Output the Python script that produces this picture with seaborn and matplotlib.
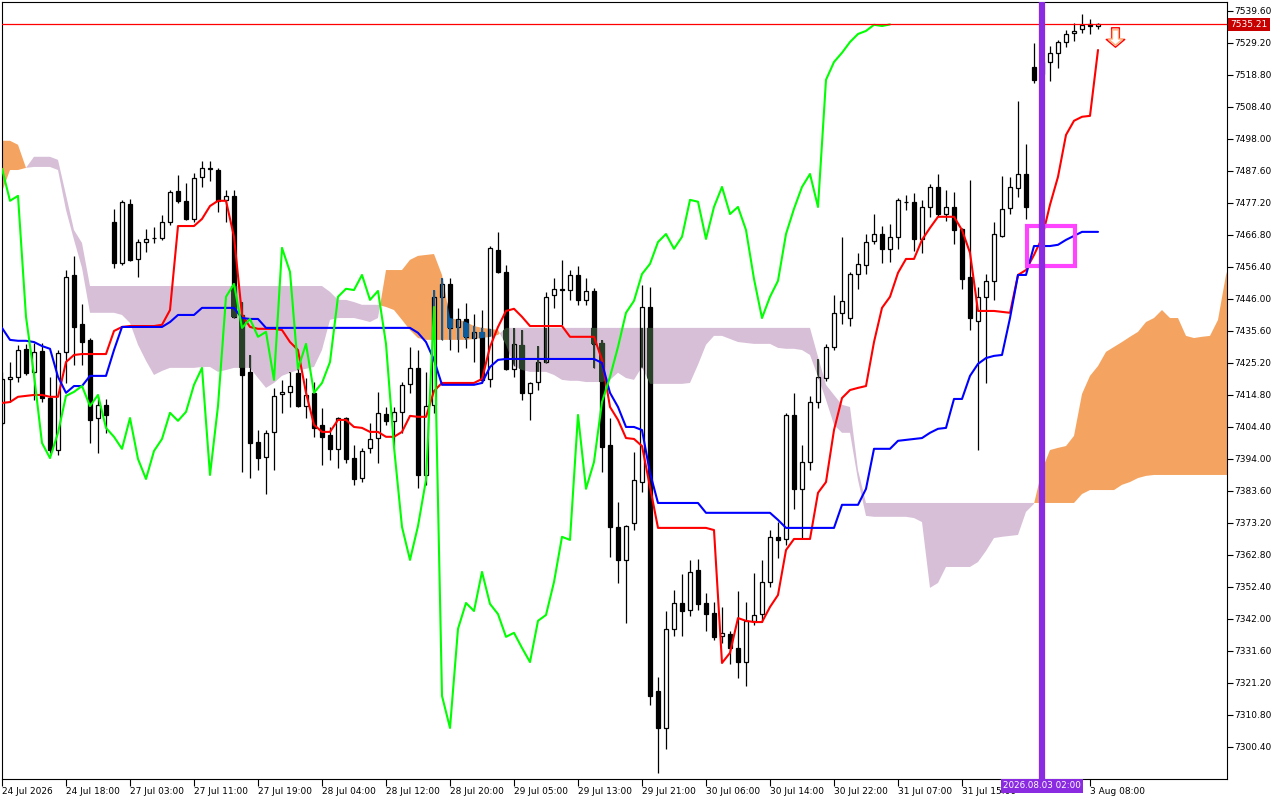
import numpy as np
import seaborn as sns
import matplotlib.pyplot as plt
import matplotlib.transforms as mtransforms
from matplotlib.path import Path
from matplotlib.patches import PathPatch, Rectangle

# hourly bars, 24 Jul 10:00 .. 3 Aug 09:00
open_ = [
    7405.7, 7420.0, 7420.7, 7429.8, 7422.3, 7429.1, 7413.8, 7396.9, 7428.8, 7453.8,
    7437.9, 7432.7, 7407.3, 7411.6, 7471.0, 7457.7, 7476.9, 7459.0, 7464.5, 7465.8,
    7465.8, 7471.0, 7481.1, 7477.9, 7472.0, 7485.7, 7488.6, 7487.9, 7478.2, 7479.5,
    7440.8, 7422.3, 7399.5, 7394.7, 7402.8, 7415.1, 7415.8, 7422.0, 7411.2, 7415.5,
    7405.1, 7401.8, 7397.3, 7407.3, 7394.3, 7387.8, 7397.6, 7400.8, 7408.6, 7406.4,
    7409.3, 7418.4, 7423.6, 7388.8, 7411.6, 7446.7, 7450.9, 7436.9, 7439.5, 7433.3,
    7435.3, 7420.0, 7461.9, 7454.8, 7423.3, 7431.1, 7415.5, 7419.0, 7425.5, 7447.3,
    7449.3, 7448.9, 7453.8, 7445.7, 7448.6, 7431.7, 7398.6, 7371.9, 7361.2, 7373.2,
    7386.5, 7443.4, 7318.6, 7306.6, 7338.8, 7347.2, 7344.9, 7357.9, 7347.2, 7344.0,
    7336.5, 7337.1, 7332.6, 7328.0, 7341.4, 7343.6, 7354.0, 7368.7, 7368.0, 7408.3,
    7384.3, 7393.0, 7412.5, 7420.3, 7430.4, 7441.5, 7439.8, 7454.1, 7457.1, 7464.9,
    7467.1, 7462.3, 7466.2, 7477.5, 7477.5, 7465.5, 7475.9, 7482.4, 7473.6, 7475.9,
    7468.8, 7453.2, 7438.9, 7446.7, 7451.9, 7466.5, 7475.6, 7482.1, 7486.6, 7521.4,
    7519.0, 7523.0, 7526.0, 7529.5, 7532.5, 7533.8, 7535.4, 7534.7,
]
high = [
    7422.3, 7425.5, 7431.1, 7431.4, 7431.7, 7431.7, 7420.7, 7429.4, 7455.4, 7460.0,
    7444.4, 7433.3, 7414.2, 7413.5, 7475.3, 7478.2, 7478.5, 7465.5, 7468.8, 7469.4,
    7473.3, 7481.4, 7486.3, 7483.7, 7487.0, 7490.9, 7490.9, 7488.6, 7481.4, 7481.4,
    7445.0, 7427.8, 7403.4, 7403.4, 7417.1, 7419.7, 7422.3, 7423.6, 7420.3, 7419.0,
    7410.6, 7404.4, 7407.7, 7407.7, 7398.6, 7397.6, 7405.7, 7415.8, 7410.9, 7410.9,
    7419.0, 7430.4, 7429.4, 7422.3, 7448.9, 7452.8, 7452.8, 7443.1, 7444.7, 7441.1,
    7442.4, 7463.2, 7467.8, 7457.1, 7436.6, 7435.9, 7419.0, 7430.7, 7448.3, 7452.8,
    7458.7, 7455.4, 7456.7, 7452.8, 7449.6, 7432.7, 7407.3, 7380.0, 7372.6, 7396.3,
    7450.6, 7449.9, 7323.2, 7344.6, 7351.4, 7356.6, 7361.2, 7361.5, 7350.5, 7347.5,
    7345.9, 7338.1, 7351.1, 7347.5, 7357.0, 7361.2, 7370.9, 7373.5, 7409.0, 7415.5,
    7398.6, 7414.5, 7426.5, 7431.4, 7447.3, 7466.2, 7454.8, 7461.0, 7467.1, 7473.6,
    7469.7, 7470.4, 7478.8, 7479.8, 7480.5, 7478.2, 7483.4, 7486.6, 7481.4, 7480.8,
    7469.1, 7484.7, 7449.9, 7454.1, 7471.0, 7486.0, 7485.7, 7510.4, 7496.4, 7529.2,
    7524.0, 7528.2, 7530.2, 7533.4, 7535.7, 7538.6, 7537.0, 7535.7,
]
low = [
    7405.1, 7412.5, 7419.0, 7421.3, 7413.2, 7412.5, 7396.0, 7395.3, 7418.7, 7424.6,
    7424.6, 7399.2, 7396.0, 7402.5, 7456.1, 7457.1, 7458.3, 7453.2, 7461.3, 7464.2,
    7465.2, 7470.1, 7477.2, 7471.7, 7471.0, 7482.4, 7484.4, 7474.3, 7471.0, 7439.8,
    7389.8, 7387.8, 7390.4, 7382.6, 7390.4, 7409.0, 7410.9, 7410.9, 7407.3, 7401.2,
    7392.1, 7393.7, 7391.1, 7392.7, 7385.6, 7386.5, 7396.0, 7392.7, 7405.1, 7397.9,
    7402.5, 7415.5, 7384.6, 7385.6, 7409.0, 7432.7, 7429.4, 7428.8, 7430.1, 7425.5,
    7418.7, 7417.4, 7454.5, 7422.9, 7420.7, 7413.2, 7406.7, 7416.4, 7425.2, 7443.1,
    7437.6, 7445.7, 7444.1, 7444.1, 7423.6, 7389.8, 7362.2, 7353.7, 7340.7, 7370.9,
    7383.3, 7314.1, 7292.0, 7299.8, 7336.5, 7336.5, 7343.0, 7344.9, 7338.1, 7335.2,
    7334.2, 7327.4, 7322.8, 7320.2, 7340.1, 7341.0, 7352.4, 7361.8, 7366.1, 7377.8,
    7368.3, 7390.4, 7410.6, 7419.4, 7429.4, 7437.9, 7437.2, 7449.3, 7454.1, 7463.9,
    7457.7, 7458.0, 7462.3, 7474.9, 7461.6, 7461.0, 7472.7, 7472.7, 7471.4, 7463.9,
    7449.3, 7435.9, 7396.9, 7418.7, 7445.7, 7466.2, 7473.6, 7479.2, 7472.0, 7516.2,
    7517.0, 7516.9, 7521.1, 7527.9, 7529.9, 7532.5, 7532.1, 7533.8,
]
close = [
    7420.0, 7420.7, 7429.4, 7422.0, 7428.8, 7413.8, 7396.9, 7428.5, 7453.2, 7436.9,
    7432.0, 7406.7, 7411.6, 7408.3, 7457.7, 7477.5, 7458.7, 7464.5, 7465.5, 7465.9,
    7471.0, 7480.8, 7477.9, 7472.0, 7485.3, 7488.6, 7488.3, 7477.9, 7479.5, 7440.2,
    7421.3, 7399.2, 7394.3, 7402.5, 7414.5, 7415.8, 7417.7, 7411.2, 7414.8, 7404.1,
    7401.2, 7397.3, 7407.3, 7394.0, 7387.5, 7396.6, 7400.5, 7409.0, 7406.4, 7409.3,
    7418.1, 7423.6, 7388.8, 7411.2, 7446.7, 7450.9, 7436.6, 7439.5, 7433.7, 7435.3,
    7419.7, 7462.6, 7454.8, 7423.3, 7431.4, 7415.5, 7418.7, 7425.5, 7446.7, 7449.3,
    7448.9, 7453.8, 7445.7, 7448.6, 7431.4, 7397.9, 7371.9, 7361.2, 7372.2, 7387.2,
    7443.4, 7317.0, 7306.6, 7338.8, 7347.2, 7344.6, 7357.3, 7346.9, 7343.6, 7336.2,
    7337.5, 7332.6, 7328.0, 7341.4, 7343.3, 7354.0, 7368.7, 7367.7, 7408.3, 7384.3,
    7393.0, 7412.5, 7420.7, 7430.4, 7441.5, 7445.4, 7454.1, 7457.4, 7464.5, 7467.1,
    7462.3, 7466.2, 7478.2, 7477.6, 7465.5, 7475.9, 7482.4, 7473.6, 7475.9, 7468.4,
    7452.5, 7439.8, 7446.7, 7451.9, 7467.1, 7475.3, 7482.4, 7486.6, 7475.9, 7517.2,
    7523.0, 7526.0, 7529.5, 7532.1, 7533.1, 7535.1, 7534.7, 7535.21,
]

# Ichimoku lines as shown
tenkan = [
    7412.2, 7412.5, 7414.2, 7414.5, 7414.8, 7414.8, 7414.2, 7414.2, 7425.5, 7427.8,
    7428.1, 7428.1, 7428.1, 7428.1, 7435.6, 7436.9, 7437.2, 7437.2, 7437.2, 7437.2,
    7437.6, 7442.4, 7469.7, 7469.7, 7469.7, 7472.0, 7476.2, 7477.9, 7477.9, 7466.2,
    7440.8, 7436.9, 7436.3, 7436.3, 7436.3, 7435.9, 7432.0, 7429.4, 7415.5, 7405.1,
    7402.8, 7402.8, 7406.7, 7406.7, 7404.4, 7404.1, 7402.8, 7402.8, 7401.2, 7401.2,
    7402.8, 7408.0, 7407.7, 7407.7, 7416.1, 7418.7, 7418.7, 7418.7, 7418.7, 7418.7,
    7420.0, 7430.4, 7436.9, 7442.1, 7442.8, 7440.2, 7437.2, 7437.2, 7437.2, 7437.2,
    7437.2, 7433.7, 7433.7, 7433.7, 7433.7, 7426.2, 7410.9, 7406.7, 7400.8, 7400.5,
    7398.2, 7384.9, 7371.6, 7371.6, 7371.6, 7371.6, 7371.6, 7371.6, 7371.6, 7370.9,
    7327.7, 7331.0, 7342.3, 7341.4, 7341.0, 7341.0, 7345.9, 7349.8, 7364.4, 7368.0,
    7368.0, 7368.0, 7383.0, 7386.5, 7403.4, 7413.8, 7416.4, 7417.1, 7417.7, 7432.0,
    7443.1, 7446.7, 7454.5, 7459.0, 7459.0, 7465.2, 7469.1, 7472.7, 7472.7, 7472.7,
    7468.4, 7461.0, 7442.1, 7442.1, 7442.1, 7441.8, 7441.5, 7453.8, 7455.4, 7460.3,
    7465.8, 7476.6, 7485.7, 7499.3, 7503.9, 7505.2, 7505.5, 7526.9,
]
kijun = [
    7436.6, 7432.7, 7432.4, 7432.4, 7432.0, 7430.7, 7429.8, 7420.7, 7415.5, 7417.7,
    7417.7, 7421.0, 7421.0, 7421.0, 7429.4, 7436.9, 7436.9, 7436.9, 7436.9, 7436.9,
    7436.9, 7438.5, 7440.8, 7440.8, 7440.8, 7443.1, 7443.1, 7443.1, 7443.1, 7443.1,
    7439.8, 7439.5, 7439.5, 7436.6, 7436.6, 7436.6, 7436.6, 7436.6, 7436.6, 7436.6,
    7436.6, 7436.6, 7436.6, 7436.6, 7436.6, 7436.6, 7436.6, 7436.6, 7436.6, 7436.6,
    7436.6, 7436.6, 7435.0, 7432.0, 7426.2, 7418.1, 7418.1, 7418.1, 7418.1, 7418.1,
    7418.7, 7423.9, 7426.2, 7426.5, 7426.5, 7426.5, 7426.5, 7426.5, 7426.5, 7426.5,
    7426.5, 7426.5, 7426.5, 7426.5, 7426.5, 7425.2, 7415.5, 7410.9, 7404.4, 7404.4,
    7403.4, 7389.5, 7379.7, 7379.7, 7379.7, 7379.7, 7379.7, 7379.7, 7376.5, 7376.5,
    7376.5, 7376.5, 7376.5, 7376.5, 7376.5, 7376.5, 7376.5, 7374.2, 7371.6, 7371.6,
    7371.6, 7371.6, 7371.6, 7371.6, 7371.6, 7379.1, 7379.1, 7379.1, 7384.3, 7397.3,
    7397.3, 7397.3, 7399.9, 7400.2, 7400.5, 7400.8, 7402.5, 7403.8, 7404.1, 7413.5,
    7413.5, 7421.0, 7424.9, 7426.8, 7427.5, 7427.8, 7439.8, 7453.8, 7453.8, 7463.2,
    7463.2, 7463.2, 7463.6, 7465.2, 7466.5, 7467.8, 7467.8, 7467.8,
]
# cloud spans, already shifted 26 bars ahead (index = bar position on chart)
span_a = [
    7497.4, 7497.4, 7496.1, 7488.6, 7488.9, 7488.9, 7488.9, 7487.9, 7474.9, 7465.2,
    7456.1, 7441.5, 7441.5, 7441.5, 7441.5, 7440.8, 7438.2, 7431.1, 7425.9, 7421.3,
    7422.6, 7423.6, 7423.6, 7423.6, 7423.6, 7423.9, 7423.9, 7422.3, 7422.9, 7423.6,
    7423.6, 7423.6, 7420.3, 7417.1, 7418.7, 7421.0, 7422.0, 7422.9, 7423.3, 7423.9,
    7429.4, 7439.2, 7439.8, 7439.8, 7439.8, 7439.2, 7438.5, 7439.8, 7455.4, 7455.4,
    7455.4, 7458.7, 7460.0, 7460.3, 7460.6, 7453.8, 7439.8, 7439.2, 7438.5, 7437.2,
    7436.6, 7436.3, 7435.9, 7431.1, 7424.2, 7422.9, 7422.3, 7422.3, 7422.3, 7421.3,
    7419.7, 7419.4, 7419.4, 7419.0, 7419.0, 7419.0, 7419.7, 7422.0, 7420.3, 7419.7,
    7423.9, 7418.4, 7418.4, 7418.4, 7418.4, 7418.4, 7418.7, 7424.6, 7431.1, 7434.0,
    7434.0, 7433.0, 7432.0, 7431.7, 7431.4, 7431.4, 7431.4, 7430.1, 7429.8, 7429.8,
    7429.4, 7427.8, 7420.7, 7413.2, 7405.1, 7402.5, 7402.5, 7387.2, 7375.5, 7375.2,
    7375.2, 7375.2, 7375.2, 7375.2, 7374.8, 7373.5, 7352.1, 7353.7, 7358.9, 7358.9,
    7358.9, 7358.9, 7360.5, 7364.1, 7368.3, 7368.7, 7369.0, 7369.3, 7376.8, 7379.4,
    7390.4, 7396.9, 7397.6, 7398.2, 7401.5, 7415.1, 7421.0, 7424.2, 7428.8, 7430.4,
    7432.0, 7433.7, 7435.3, 7438.5, 7439.8, 7442.4, 7439.8, 7439.8, 7434.0, 7433.3,
    7433.7, 7434.0, 7439.2, 7453.8, 7462.0,
]
span_b = [
    7480.8, 7487.9, 7487.9, 7488.6, 7492.2, 7492.2, 7492.2, 7491.2, 7479.8, 7468.4,
    7464.2, 7450.2, 7450.2, 7450.2, 7450.2, 7450.2, 7450.2, 7450.2, 7450.2, 7450.2,
    7450.2, 7450.2, 7450.2, 7450.2, 7450.2, 7450.2, 7450.2, 7450.2, 7450.2, 7450.2,
    7450.2, 7450.2, 7450.2, 7450.2, 7450.2, 7450.2, 7450.2, 7450.2, 7450.2, 7450.2,
    7450.2, 7448.3, 7445.7, 7445.7, 7445.0, 7444.1, 7444.1, 7444.1, 7443.4, 7442.4,
    7439.2, 7435.9, 7433.3, 7432.7, 7432.7, 7432.7, 7432.7, 7432.7, 7432.7, 7433.0,
    7433.3, 7433.7, 7434.3, 7436.6, 7436.6, 7436.6, 7436.6, 7436.6, 7436.6, 7436.6,
    7436.6, 7436.6, 7436.6, 7436.6, 7436.6, 7436.6, 7436.6, 7436.6, 7436.6, 7436.6,
    7436.6, 7436.6, 7436.6, 7436.6, 7436.6, 7436.6, 7436.6, 7436.6, 7436.6, 7436.6,
    7436.6, 7436.6, 7436.6, 7436.6, 7436.6, 7436.6, 7436.6, 7436.6, 7436.6, 7436.6,
    7436.6, 7436.6, 7427.2, 7418.1, 7414.8, 7411.6, 7410.9, 7390.4, 7379.7, 7379.7,
    7379.7, 7379.7, 7379.7, 7379.7, 7379.7, 7379.7, 7379.7, 7379.7, 7379.7, 7379.7,
    7379.7, 7379.7, 7379.7, 7379.7, 7379.7, 7379.7, 7379.7, 7379.7, 7379.7, 7379.7,
    7379.7, 7379.7, 7379.7, 7379.7, 7379.7, 7382.6, 7383.9, 7383.9, 7383.9, 7383.9,
    7385.6, 7386.5, 7387.8, 7388.5, 7388.8, 7388.8, 7388.8, 7388.8, 7388.8, 7388.8,
    7388.8, 7388.8, 7388.8, 7388.8, 7388.8,
]

time_ticks = [0, 8, 16, 24, 32, 40, 48, 56, 64, 72, 80, 88, 96, 104, 112, 120, 136]
time_labels = [
    "24 Jul 2026", "24 Jul 18:00", "27 Jul 03:00", "27 Jul 11:00", "27 Jul 19:00",
    "28 Jul 04:00", "28 Jul 12:00", "28 Jul 20:00", "29 Jul 05:00", "29 Jul 13:00",
    "29 Jul 21:00", "30 Jul 06:00", "30 Jul 14:00", "30 Jul 22:00", "31 Jul 07:00",
    "31 Jul 15:00", "3 Aug 08:00",
]
price_ticks = [
    7300.4, 7310.8, 7321.2, 7331.6, 7342.0, 7352.4, 7362.8, 7373.2, 7383.6, 7394.0,
    7404.4, 7414.8, 7425.2, 7435.6, 7446.0, 7456.4, 7466.8, 7477.2, 7487.6, 7498.0,
    7508.4, 7518.8, 7529.2, 7539.6,
]
last_price = 7535.21
marker_bar = 130
marker_label = "2026.08.03 02:00"
box_bars = (128.1, 134.1)
box_prices = (7456.7, 7469.7)
arrow_bar, arrow_price = 139.1, 7531.0

sns.set_style("white")
plt.rcParams["font.family"] = ["DejaVu Sans"]

o, h, l, c = (np.array(v) for v in (open_, high, low, close))
bars = np.arange(len(c))
A, B = np.array(span_a), np.array(span_b)
cloud_x = np.arange(len(A))
up = c >= o
body_lo, body_hi = np.minimum(o, c), np.maximum(o, c)

fig = plt.figure(figsize=(12.8, 8), dpi=100)
ax = fig.add_axes([2 / 1280, 21 / 800, 1225 / 1280, 777 / 800])

# cloud
ax.fill_between(cloud_x, A, B, where=A >= B, interpolate=True, color="#f4a460", lw=0, zorder=1)
ax.fill_between(cloud_x, A, B, where=A < B, interpolate=True, color="#d8bfd8", lw=0, zorder=1)

# candles
ax.vlines(bars, body_hi, h, color="black", lw=0.9, zorder=2)
ax.vlines(bars, l, body_lo, color="black", lw=0.9, zorder=2)
ax.bar(bars[up], (c - o)[up], bottom=o[up], width=0.6, color="none",
       edgecolor="black", lw=0.9, zorder=3)
ax.bar(bars[~up], (o - c)[~up], bottom=c[~up], width=0.6, color="black",
       edgecolor="black", lw=0.9, zorder=3)

# dark candle parts inside the cloud show the cloud colour inverted
verts, codes = [], []
def add_rect(x0, x1, y0, y1):
    verts.extend([(x0, y0), (x1, y0), (x1, y1), (x0, y1), (x0, y0)])
    codes.extend([Path.MOVETO, Path.LINETO, Path.LINETO, Path.LINETO, Path.CLOSEPOLY])
for i in bars:
    add_rect(i - 0.07, i + 0.07, l[i], h[i])
    if not up[i]:
        add_rect(i - 0.33, i + 0.33, c[i], o[i])
clip = PathPatch(Path(verts, codes), transform=ax.transData, fc="none", ec="none")
for cond, col in ((A >= B, "#0b5b9f"), (A < B, "#274027")):
    pc = ax.fill_between(cloud_x, A, B, where=cond, interpolate=True, color=col, lw=0, zorder=3.5)
    pc.set_clip_path(clip)

# tenkan, kijun, chikou
sns.lineplot(x=bars, y=tenkan, color="#ff0000", lw=1.5, ax=ax, zorder=4)
sns.lineplot(x=bars, y=kijun, color="#0000ff", lw=1.5, ax=ax, zorder=4)
sns.lineplot(x=bars - 26, y=c, color="#00ff00", lw=1.5, ax=ax, zorder=4.2)

ax.axhline(last_price, color="#ff0000", lw=0.9, zorder=4.5)
ax.add_patch(Rectangle((box_bars[0], box_prices[0]), box_bars[1] - box_bars[0],
                       box_prices[1] - box_prices[0], fill=False, ec="#ff44ff", lw=3, zorder=5))
ax.axvline(marker_bar, color="#8a2be2", lw=4.5, zorder=6)

# hollow sell arrow
arrow = Path([(-0.4, 1), (0.4, 1), (0.4, -0.2), (0.95, -0.2), (0, -1),
              (-0.95, -0.2), (-0.4, -0.2), (-0.4, 1)],
             [Path.MOVETO] + [Path.LINETO] * 6 + [Path.CLOSEPOLY])
ax.plot(arrow_bar, arrow_price, marker=arrow, ms=14, mfc="white", mec="#ff0000", mew=1, zorder=7)
ax.plot(arrow_bar, arrow_price, marker=arrow, ms=11, mfc="white", mec="#ffb27a", mew=1, zorder=7)

ax.set_xlim(0, 153.125)
ax.set_ylim(7290.0, 7542.5)
ax.set_xlabel("")
ax.set_ylabel("")

ax.yaxis.tick_right()
ax.set_yticks(price_ticks)
ax.set_yticklabels([f"{v:.2f}" for v in price_ticks])
ax.set_xticks(time_ticks)
ax.set_xticklabels(time_labels, ha="left")
ax.tick_params(axis="y", which="both", right=True, left=False, direction="out",
               length=4, width=0.8, pad=1, labelsize=6.5, colors="black")
ax.tick_params(axis="x", bottom=True, direction="out", length=5, width=0.8,
               pad=1, labelsize=6.5, colors="black")
for s in ax.spines.values():
    s.set_visible(True)
    s.set_color("black")
    s.set_linewidth(0.8)

tr_y = mtransforms.blended_transform_factory(ax.transAxes, ax.transData)
ax.text(1.003, last_price, f"{last_price:.2f}", transform=tr_y, ha="left", va="center",
        fontsize=6.5, color="white", zorder=10, clip_on=False,
        bbox=dict(boxstyle="square,pad=0.25", fc="#c80000", ec="none"))
tr_x = mtransforms.blended_transform_factory(ax.transData, ax.transAxes)
ax.text(marker_bar, -0.003, marker_label, transform=tr_x, ha="center", va="top",
        fontsize=6.3, color="white", zorder=10, clip_on=False,
        bbox=dict(boxstyle="square,pad=0.25", fc="#8a2be2", ec="none"))

fig.savefig("out.png", dpi=100)
